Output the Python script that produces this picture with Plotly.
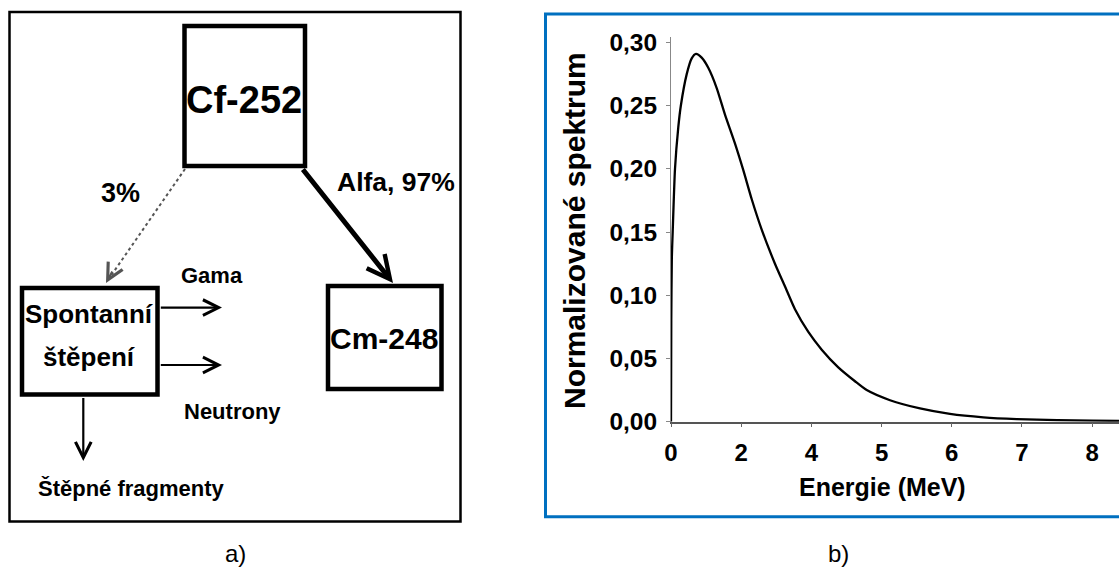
import plotly.graph_objects as go

W, H = 1119, 572

# ---- data (panel b): curve ----
# x positions are in tick-slot units (tick labels are not evenly spaced in MeV)
slot_pos = [0.000, 0.004, 0.012, 0.024, 0.057, 0.104, 0.140, 0.224, 0.295, 0.356,
            0.437, 0.531, 0.651, 0.769, 0.912, 1.030, 1.150, 1.292, 1.481, 1.624,
            1.766, 1.956, 2.147, 2.383, 2.621, 2.788, 3.120, 3.547, 3.974, 4.449,
            4.925, 5.500, 6.000, 6.400]
spectrum = [0.000, 0.080, 0.130, 0.150, 0.200, 0.233, 0.250, 0.275, 0.2875, 0.291,
            0.288, 0.280, 0.264, 0.243, 0.220, 0.199, 0.176, 0.152, 0.125, 0.107,
            0.089, 0.071, 0.057, 0.043, 0.032, 0.025, 0.017, 0.0105, 0.0062, 0.0035,
            0.0021, 0.0012, 0.0008, 0.0006]
x_tick_vals = [0, 1, 2, 3, 4, 5, 6]
x_tick_text = ["0", "2", "4", "5", "6", "7", "8"]
y_tick_vals = [0.00, 0.05, 0.10, 0.15, 0.20, 0.25, 0.30]
y_tick_text = ["0,00", "0,05", "0,10", "0,15", "0,20", "0,25", "0,30"]


def X(px):
    return px / W


def Y(py):
    return 1 - py / H


BOLD = "Liberation Sans"

fig = go.Figure()
fig.add_trace(go.Scatter(x=slot_pos, y=spectrum, mode="lines",
                         line=dict(color="black", width=2.3, shape="spline", smoothing=0.6),
                         hoverinfo="skip", showlegend=False, cliponaxis=True))

fig.update_layout(
    template="none",
    width=W, height=H, autosize=False,
    margin=dict(l=0, r=0, t=0, b=0, pad=0, autoexpand=False),
    paper_bgcolor="white", plot_bgcolor="white",
    xaxis=dict(domain=[X(671), 1.0], range=[0, 6.382], automargin=False,
               tickvals=x_tick_vals, ticktext=x_tick_text,
               showgrid=False, zeroline=False, showline=True,
               linecolor="#555555", linewidth=1.5,
               ticks="outside", ticklen=4, tickcolor="#666666", tickwidth=1,
               ticklabelstandoff=5,
               tickfont=dict(family=BOLD, size=24, color="black", weight="bold")),
    yaxis=dict(domain=[Y(421.7), Y(36.7)], range=[0, 0.3046], automargin=False,
               tickvals=y_tick_vals, ticktext=y_tick_text,
               showgrid=False, zeroline=False, showline=True,
               linecolor="#888888", linewidth=1,
               ticks="outside", ticklen=4, tickcolor="#888888", tickwidth=1,
               ticklabelstandoff=4,
               tickfont=dict(family=BOLD, size=24.5, color="black", weight="bold")),
)

shapes = []
annotations = []

# panel b frame (blue) and titles
shapes.append(dict(type="rect", xref="paper", yref="paper",
                   x0=X(545.5), x1=X(1126), y0=Y(516.7), y1=Y(14),
                   line=dict(color="#0070C0", width=3), layer="below"))


def label(text, px, py, size, weight="bold", angle=0):
    annotations.append(dict(text=text, xref="paper", yref="paper", x=X(px), y=Y(py),
                            xanchor="center", yanchor="middle", showarrow=False,
                            textangle=angle,
                            font=dict(family=BOLD, size=size, color="black", weight=weight)))


label("Energie (MeV)", 882.5, 487, 25)
label("Normalizované spektrum", 574, 231, 30, angle=-90)

# panel a frame
shapes.append(dict(type="rect", xref="paper", yref="paper",
                   x0=X(9.5), x1=X(460.5), y0=Y(521.5), y1=Y(12),
                   line=dict(color="black", width=2.5)))

# boxes
for (x0, y0, x1, y1) in [(184.5, 26, 305, 166), (22, 288, 157.5, 394.5), (328, 286, 441.5, 389)]:
    shapes.append(dict(type="rect", xref="paper", yref="paper",
                       x0=X(x0), x1=X(x1), y0=Y(y1), y1=Y(y0),
                       line=dict(color="black", width=4.5)))

# dotted thin arrow Cf -> spontanni
shapes.append(dict(type="line", xref="paper", yref="paper",
                   x0=X(185), y0=Y(169), x1=X(108), y1=Y(280),
                   line=dict(color="#555555", width=2, dash="dot")))


def arrow(x0, y0, x1, y1, width, color="black", size=1.0, head=5):
    annotations.append(dict(xref="paper", yref="paper", x=X(x1), y=Y(y1),
                            ax=x0 - x1, ay=y0 - y1, axref="pixel", ayref="pixel",
                            showarrow=True, arrowhead=head, arrowsize=size,
                            arrowwidth=width, arrowcolor=color, text=""))


arrow(113, 270, 106, 283, 2, color="#555555", size=1.6)
arrow(301.7, 168, 393, 283, 5, size=0.9)
arrow(159.3, 307.6, 222, 307.6, 2.2, size=1.4)
arrow(159.3, 365, 222, 365, 2.2, size=1.4)
arrow(83.3, 396.5, 83.3, 461, 2.2, size=1.4)

label("Cf-252", 244, 100, 38)
label("Cm-248", 384, 338, 30)
label("Spontanní", 89, 314, 26)
label("štěpení", 89, 357, 26)
label("3%", 120, 193, 27)
label("Alfa, 97%", 396, 182, 26.5)
label("Gama", 212, 275, 22)
label("Neutrony", 232, 411, 22)
label("Štěpné fragmenty", 131, 488, 22)
label("a)", 235, 553, 24, weight="normal")
label("b)", 838, 553, 24, weight="normal")

fig.update_layout(shapes=shapes, annotations=annotations)
fig.write_html("out.html",
               post_script="document.body.style.margin='0';"
                           "document.documentElement.style.overflow='hidden';")
